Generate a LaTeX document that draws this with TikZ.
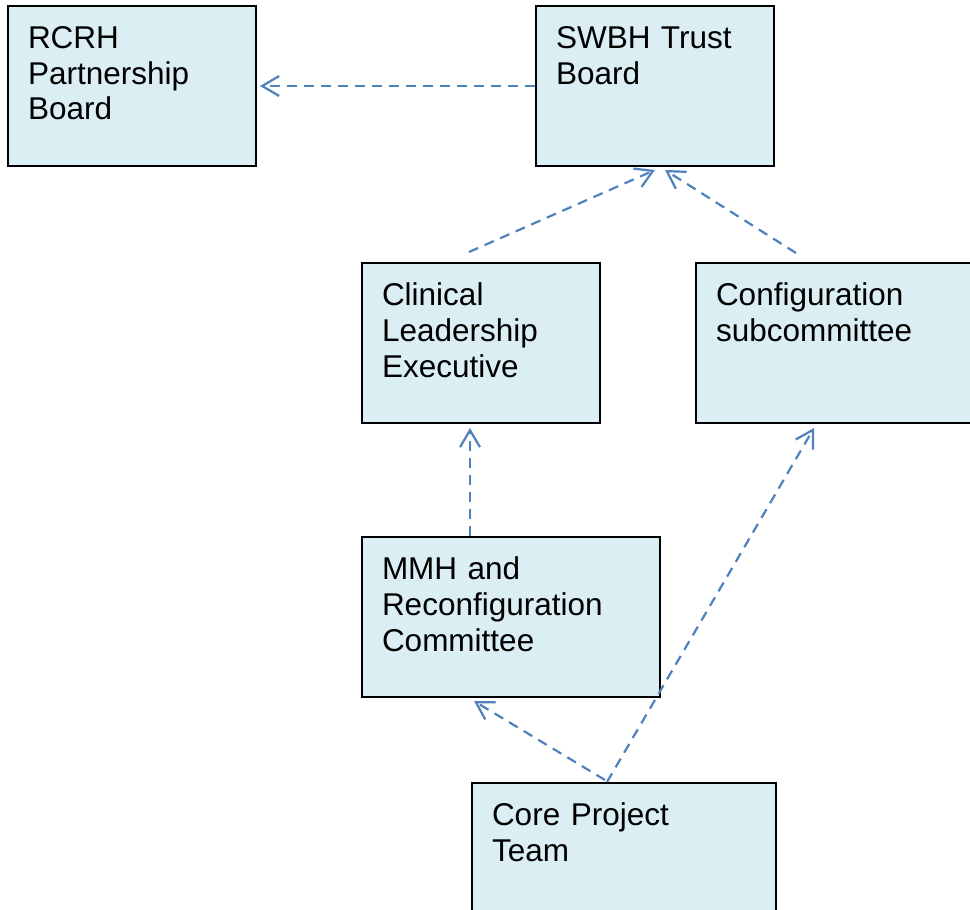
\documentclass[tikz,border=0pt]{standalone}
\usepackage{fontspec}
\setmainfont{Liberation Sans}
\usetikzlibrary{arrows.meta}
\definecolor{boxfill}{HTML}{DAEEF3}
\definecolor{linkblue}{HTML}{4F81BD}

\begin{document}
\begin{tikzpicture}[x=1pt, y=-1pt,
  box/.style = {draw=black, line width=2pt, fill=boxfill, anchor=north west,
    align=left, inner xsep=20pt, inner ysep=22pt,
    text height=20pt, text depth=96pt,
    font=\fontsize{31.5}{36}\selectfont},
  link/.style = {draw=linkblue, line width=2.2pt, dash pattern=on 10pt off 7pt,
    -{Straight Barb[length=17pt, width=20pt, line width=2.2pt]}}
  ]
  \clip (0,0) rectangle (970,910);
  \fill[white] (0,0) rectangle (970,910);

  \node[box, text width=208pt] (rcrh) at (7,5) {RCRH\\Partnership\\Board};
  \node[box, text width=198pt] (swbh) at (535,5) {SWBH Trust\\Board};
  \node[box, text width=198pt] (cle) at (361,262) {Clinical\\Leadership\\Executive};
  \node[box, text width=240pt] (conf) at (695,262) {Configuration\\subcommittee};
  \node[box, text width=258pt] (mmh) at (361,536) {MMH and\\Reconfiguration\\Committee};
  \node[box, text width=264pt] (core) at (471,782) {Core Project\\Team};

  \draw[link] (swbh.west) -- ([xshift=3pt]rcrh.east);
  \draw[link] ([xshift=-12pt, yshift=10pt]cle.north) -- ([yshift=-3pt]swbh.south);
  \draw[link] ([xshift=-40pt, yshift=9pt]conf.north) -- ([xshift=10pt, yshift=-3pt]swbh.south);
  \draw[link] ([xshift=-41pt]mmh.north) -- ([xshift=-11pt, yshift=-4pt]cle.south);
  \draw[link] ([xshift=-17pt]core.north) -- ([xshift=-22pt, yshift=-4pt]conf.south);
  \draw[link] ([xshift=-19pt, yshift=2pt]core.north) -- ([xshift=-37pt, yshift=-3pt]mmh.south);
\end{tikzpicture}
\end{document}
